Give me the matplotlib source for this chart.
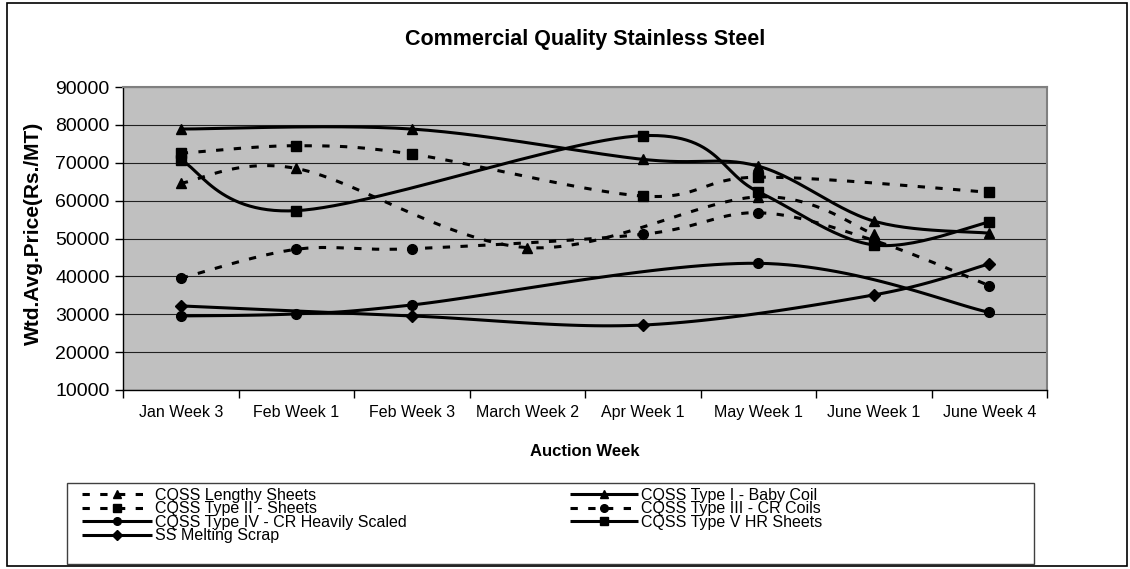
import numpy as np
import matplotlib
matplotlib.use("Agg")
import matplotlib.pyplot as plt
from matplotlib.lines import Line2D
from matplotlib.patches import Rectangle

nan = np.nan

# ---------------- data ----------------
categories = ["Jan Week 3", "Feb Week 1", "Feb Week 3", "March Week 2",
              "Apr Week 1", "May Week 1", "June Week 1", "June Week 4"]

lengthy_sheets = [64600, 68500, nan, 47600, nan, 61000, 51200, nan]
type1_baby_coil = [78900, nan, 78900, nan, 70900, 69100, 54600, 51400]
type2_sheets = [72500, 74500, 72300, nan, 61200, 66200, nan, 62200]
type3_cr_coils = [39500, 47150, 47300, nan, 51100, 56800, 49500, 37550]
type4_cr_scaled = [29550, 30100, 32450, nan, nan, 43450, nan, 30500]
type5_hr_sheets = [70700, 57350, nan, nan, 77150, 62350, 48300, 54350]
ss_melting_scrap = [32200, nan, 29550, nan, 27150, nan, 35100, 43300]

series_names = ["CQSS Lengthy Sheets", "CQSS Type I - Baby Coil",
                "CQSS Type II - Sheets", "CQSS Type III - CR Coils",
                "CQSS Type IV - CR Heavily Scaled", "CQSS Type V HR Sheets",
                "SS Melting Scrap"]
series_values = [lengthy_sheets, type1_baby_coil, type2_sheets, type3_cr_coils,
                 type4_cr_scaled, type5_hr_sheets, ss_melting_scrap]
series_dashed = [True, False, True, True, False, False, False]
series_marker = ["^", "^", "s", "o", "o", "s", "D"]

y_ticks = [10000, 20000, 30000, 40000, 50000, 60000, 70000, 80000, 90000]

# ---------------- figure ----------------
W, H = 1130, 569
plt.rcParams["font.family"] = ["Liberation Sans", "DejaVu Sans"]
fig = plt.figure(figsize=(W / 100, H / 100), dpi=100)
fig.patch.set_facecolor("white")

L, R, T, B = 123, 1047, 87, 390
ax = fig.add_axes([L / W, 1 - B / H, (R - L) / W, (B - T) / H])
ax.set_facecolor("#C0C0C0")
ax.set_xlim(-0.5, len(categories) - 0.5)
ax.set_ylim(y_ticks[0], y_ticks[-1])

ax.set_yticks(y_ticks)
ax.set_yticklabels([str(v) for v in y_ticks])
ax.yaxis.grid(True, color="#202020", lw=0.8)
ax.set_axisbelow(True)

ax.set_xticks(range(len(categories)))
ax.set_xticklabels(categories)
ax.set_xticks(np.arange(-0.5, len(categories), 1.0), minor=True)
ax.tick_params(axis="x", which="major", length=0, labelsize=11.5, pad=11)
ax.tick_params(axis="x", which="minor", length=5.5, width=1, direction="out")
ax.tick_params(axis="y", length=5.5, width=1, direction="out", labelsize=14, pad=4)

for s in ["top", "right"]:
    ax.spines[s].set_color("#808080")
    ax.spines[s].set_linewidth(1.5)
for s in ["left", "bottom"]:
    ax.spines[s].set_color("black")
    ax.spines[s].set_linewidth(1.0)

# smoothing (Excel-like cubic Bezier through valid points, in pixel-proportional space)
SX = (R - L) / len(categories)
SY = (B - T) / (y_ticks[-1] - y_ticks[0])


def smooth_curve(idx, vals, n=30):
    P = np.column_stack([np.asarray(idx, float) * SX, np.asarray(vals, float) * SY])
    if len(P) < 2:
        return P[:, 0] / SX, P[:, 1] / SY
    out = []
    t = np.linspace(0, 1, n)[:, None]
    for i in range(len(P) - 1):
        p0 = P[i - 1] if i > 0 else P[i]
        p1, p2 = P[i], P[i + 1]
        p3 = P[i + 2] if i + 2 < len(P) else P[i + 1]
        c1 = p1 + (p2 - p0) / 6.0
        c2 = p2 - (p3 - p1) / 6.0
        seg = (1 - t) ** 3 * p1 + 3 * (1 - t) ** 2 * t * c1 + 3 * (1 - t) * t ** 2 * c2 + t ** 3 * p2
        out.append(seg if i == 0 else seg[1:])
    pts = np.vstack(out)
    return pts[:, 0] / SX, pts[:, 1] / SY


LW = 2.2
DASH = (2.4, 3.4)
for name, vals, dashed, mk in zip(series_names, series_values, series_dashed, series_marker):
    v = np.asarray(vals, float)
    idx = np.where(~np.isnan(v))[0]
    xs, ys = smooth_curve(idx, v[idx])
    line, = ax.plot(xs, ys, color="black", lw=LW, solid_capstyle="butt")
    if dashed:
        line.set_dashes(DASH)
        line.set_dash_capstyle("butt")
    ms = 6.3 if mk == "D" else 7
    ax.plot(idx, v[idx], linestyle="none", marker=mk, ms=ms, color="black",
            mec="black", mfc="black")

# ---------------- texts ----------------
fig.text(585.5 / W, 1 - 40 / H, "Commercial Quality Stainless Steel",
         ha="center", va="center", fontsize=15.5, fontweight="bold")
fig.text(33 / W, 1 - 233 / H, "Wtd.Avg.Price(Rs./MT)", rotation=90,
         ha="center", va="center", fontsize=15, fontweight="bold")
fig.text(585 / W, 1 - 452 / H, "Auction Week", ha="center", va="center",
         fontsize=12, fontweight="bold")

# ---------------- legend (drawn manually in figure pixels) ----------------
def fx(x):
    return x / W


def fy(y):
    return 1 - y / H


fig.patches.append(Rectangle((fx(67), fy(564)), (1034 - 67) / W, (564 - 483) / H,
                             transform=fig.transFigure, fill=False,
                             ec="#404040", lw=1.0))

legend_order = [0, 2, 4, 6, 1, 3, 5]  # column-wise order of the two-column legend
row_y = [494, 507.5, 521, 534.5]
col_x = [(82, 152, 155), (570, 638, 641)]
for k, si in enumerate(legend_order):
    col = 0 if k < 4 else 1
    row = k if k < 4 else k - 4
    x0, x1, xt = col_x[col]
    y = row_y[row]
    ln = Line2D([fx(x0), fx((x0 + x1) / 2), fx(x1)], [fy(y)] * 3,
                transform=fig.transFigure, color="black", lw=LW,
                marker=series_marker[si], markevery=[1],
                ms=5.5 if series_marker[si] != "D" else 5.0,
                solid_capstyle="butt")
    if series_dashed[si]:
        ln.set_dashes(DASH)
        ln.set_dash_capstyle("butt")
    fig.lines.append(ln)
    fig.text(fx(xt), fy(y + 5.8), series_names[si], ha="left", va="baseline",
             fontsize=11.5)

# outer chart border
fig.patches.append(Rectangle((fx(7), fy(566)), (1127 - 7) / W, (566 - 3) / H,
                             transform=fig.transFigure, fill=False,
                             ec="black", lw=1.2))

fig.savefig("out.png", dpi=100)
